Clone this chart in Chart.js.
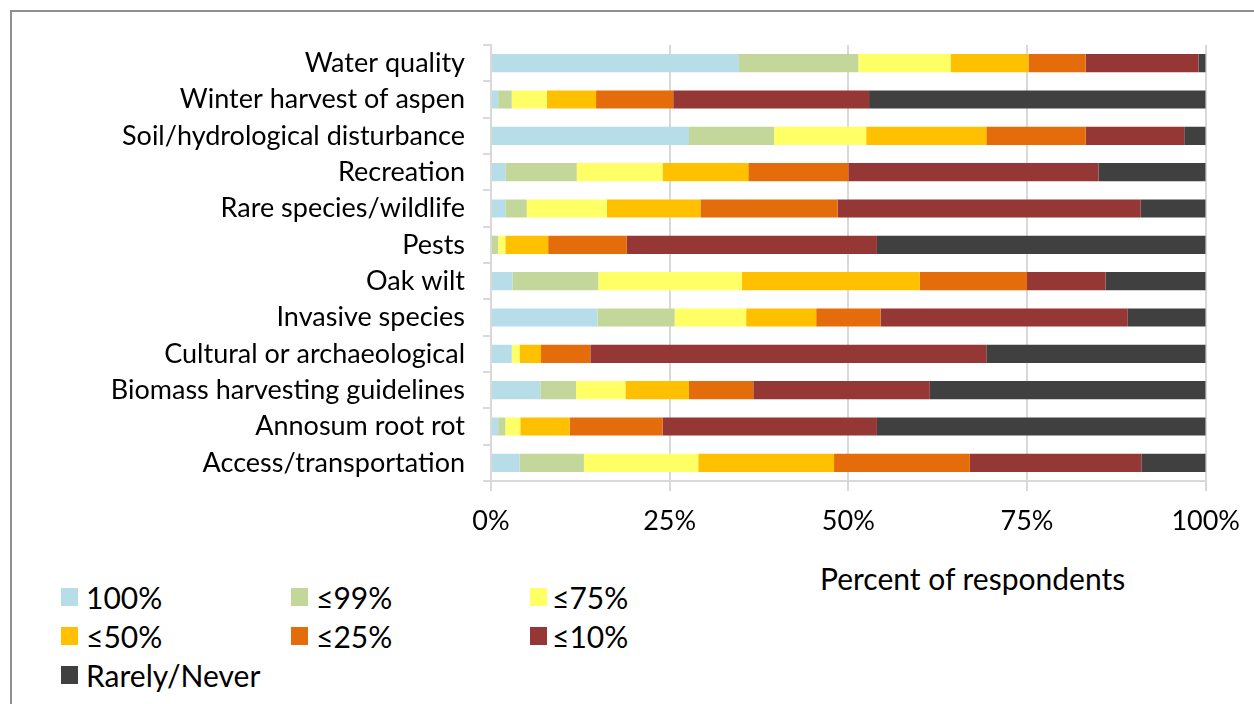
<!DOCTYPE html>
<html>
<head>
<meta charset="utf-8">
<script src="https://cdn.jsdelivr.net/npm/chart.js@4"></script>
<style>
  body { margin: 0; background: #fff; font-family: Lato, sans-serif; }
  #frame { position: absolute; left: 10px; top: 10px; width: 1244px; height: 694px;
           border-left: 2px solid #8f8f8f; border-top: 2px solid #8f8f8f; }
  #wrap { position: absolute; left: 0; top: 0; width: 1254px; height: 560px; }
  #xtitle { position: absolute; left: 820px; top: 560px; font-size: 30px; line-height: 36px; color: #000; white-space: nowrap; }
  .leg { position: absolute; font-size: 30px; color: #000; white-space: nowrap; line-height: 36px; height: 36px; }
  .leg span { position: absolute; left: 0; top: 9px; width: 17px; height: 18px; }
  .leg b { font-weight: normal; position: absolute; top: 0; }
</style>
</head>
<body>
<div id="frame"></div>
<div id="wrap"><canvas id="chart"></canvas></div>
<div id="xtitle">Percent of respondents</div>
<div id="legend"></div>
<script>
const categories = [
  'Water quality', 'Winter harvest of aspen', 'Soil/hydrological disturbance', 'Recreation',
  'Rare species/wildlife', 'Pests', 'Oak wilt', 'Invasive species',
  'Cultural or archaeological', 'Biomass harvesting guidelines', 'Annosum root rot', 'Access/transportation'
];
const seriesNames = ['100%', '≤99%', '≤75%', '≤50%', '≤25%', '≤10%', 'Rarely/Never'];

const all100  = [34.7, 1.0, 27.7, 2.0, 2.0, 0.0, 3.0, 14.9, 2.9, 6.9, 1.0, 4.0];
const upTo99  = [16.7, 1.9, 11.9, 10.0, 3.0, 1.0, 12.0, 10.8, 0.0, 5.0, 1.0, 9.0];
const upTo75  = [12.9, 4.9, 12.9, 12.0, 11.2, 1.0, 20.1, 10.0, 1.1, 6.9, 2.1, 16.0];
const upTo50  = [10.9, 6.9, 16.8, 12.0, 13.1, 6.0, 24.9, 9.8, 3.0, 8.9, 6.9, 19.0];
const upTo25  = [8.0, 10.8, 13.9, 14.0, 19.2, 11.0, 15.0, 9.0, 6.9, 9.0, 13.0, 19.0];
const upTo10  = [15.8, 27.4, 13.8, 35.0, 42.4, 35.0, 11.0, 34.6, 55.4, 24.7, 30.0, 24.0];
const rarely  = [1.0, 47.1, 3.0, 15.0, 9.1, 46.0, 14.0, 10.9, 30.7, 38.6, 46.0, 9.0];

const xTicks = [0, 25, 50, 75, 100];

const seriesValues = [all100, upTo99, upTo75, upTo50, upTo25, upTo10, rarely];
const colors = ['#b7dde8', '#c4d79b', '#ffff66', '#ffc000', '#e46c0a', '#953735', '#404040'];

// legend: 3 columns like the original
const legCols = [61, 291, 530];
const legRows = [579, 618, 657];
const legend = document.getElementById('legend');
seriesNames.forEach((name, i) => {
  const d = document.createElement('div');
  d.className = 'leg';
  d.style.left = legCols[i % 3] + 'px';
  d.style.top = legRows[Math.floor(i / 3)] + 'px';
  d.innerHTML = '<span style="background:' + colors[i] + '"></span><b style="left:' + (i % 3 === 2 ? 22 : 25) + 'px">' + name + '</b>';
  legend.appendChild(d);
});

const gridColor = '#d9d9d9';

new Chart(document.getElementById('chart'), {
  type: 'bar',
  data: {
    labels: categories,
    datasets: seriesNames.map((name, i) => ({
      label: name,
      data: seriesValues[i],
      backgroundColor: colors[i],
      borderWidth: 0,
      barPercentage: 0.5,
      categoryPercentage: 1.0
    }))
  },
  options: {
    indexAxis: 'y',
    responsive: true,
    maintainAspectRatio: false,
    animation: false,
    layout: { padding: { top: 45, right: 46, left: 0, bottom: 0 } },
    plugins: { legend: { display: false }, tooltip: { enabled: false } },
    scales: {
      x: {
        stacked: true,
        min: 0,
        max: 100,
        afterBuildTicks: s => { s.ticks = xTicks.map(v => ({ value: v })); },
        afterFit: s => { s.height = 79; },
        grid: { color: gridColor, lineWidth: 2, tickLength: 10 },
        border: { color: gridColor, width: 2 },
        ticks: {
          color: '#000',
          font: { family: 'Lato', size: 27 },
          padding: 14,
          callback: v => v + '%'
        }
      },
      y: {
        stacked: true,
        afterFit: s => { s.width = 491; },
        grid: { drawOnChartArea: false, color: gridColor, lineWidth: 2, tickLength: 8 },
        border: { color: gridColor, width: 2 },
        ticks: { color: '#000', font: { family: 'Lato', size: 27 }, padding: 18 }
      }
    }
  }
});
</script>
</body>
</html>
